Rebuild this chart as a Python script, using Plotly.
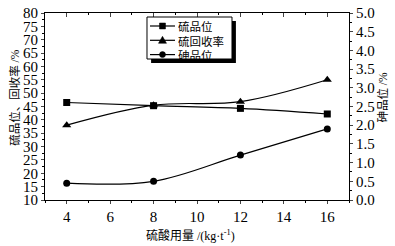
import plotly.graph_objects as go

dosage = [4, 8, 12, 16]
s_grade = [46.5, 45.3, 44.3, 42.2]
s_recovery = [38.0, 45.5, 46.8, 55.0]
as_grade = [0.45, 0.50, 1.20, 1.90]

names = ["硫品位", "硫回收率", "砷品位"]
x_ticks = [4, 6, 8, 10, 12, 14, 16]
y1_ticks = list(range(10, 81, 5))
y2_ticks = [0.0, 0.5, 1.0, 1.5, 2.0, 2.5, 3.0, 3.5, 4.0, 4.5, 5.0]

FONT = "Liberation Serif, Times New Roman, Noto Sans CJK SC, serif"

fig = go.Figure()
fig.add_trace(go.Scatter(x=dosage, y=s_grade, name=names[0], mode="lines+markers",
                         line=dict(color="black", width=1.2, shape="spline"),
                         marker=dict(symbol="square", size=7, color="black")))
fig.add_trace(go.Scatter(x=dosage, y=s_recovery, name=names[1], mode="lines+markers",
                         line=dict(color="black", width=1.2, shape="spline"),
                         marker=dict(symbol="triangle-up", size=8, color="black")))
fig.add_trace(go.Scatter(x=dosage, y=as_grade, name=names[2], mode="lines+markers", yaxis="y2",
                         line=dict(color="black", width=1.2, shape="spline"),
                         marker=dict(symbol="circle", size=7, color="black")))
# invisible trace for top mirror axis
fig.add_trace(go.Scatter(x=dosage, y=s_grade, xaxis="x2", mode="markers", showlegend=False,
                         marker=dict(opacity=0), hoverinfo="skip"))

axis_common = dict(showgrid=False, zeroline=False, linecolor="black", linewidth=1, automargin=False,
                   tickfont=dict(family=FONT, size=15, color="black"))

# ---- hand-drawn legend box (shadow + frame), symbols and labels ----
fig.add_shape(type="rect", xref="paper", yref="paper", x0=0.349, x1=0.628, y0=0.7326, y1=0.957,
              fillcolor="black", line=dict(width=0), layer="above")
fig.add_shape(type="rect", xref="paper", yref="paper", x0=0.3355, x1=0.6151, y0=0.754, y1=0.9786,
              fillcolor="white", line=dict(color="black", width=1), layer="above")
rows = [0.9305, 0.854, 0.7775]
lx0, lx1, lxc, tx = 0.3454, 0.4276, 0.3865, 0.4342
for i, (ry, nm) in enumerate(zip(rows, names)):
    fig.add_shape(type="line", xref="paper", yref="paper", x0=lx0, x1=lx1, y0=ry, y1=ry,
                  line=dict(color="black", width=1.2), layer="above")
    common = dict(xref="paper", yref="paper", xsizemode="pixel", ysizemode="pixel",
                  xanchor=lxc, yanchor=ry, fillcolor="black", line=dict(color="black", width=0.5),
                  layer="above")
    if i == 0:
        fig.add_shape(type="rect", x0=-3, x1=3, y0=-3, y1=3, **common)
    elif i == 1:
        fig.add_shape(type="path", path="M-4,-3 L4,-3 L0,4 Z", **common)
    else:
        fig.add_shape(type="circle", x0=-3, x1=3, y0=-3, y1=3, **common)
    fig.add_annotation(xref="paper", yref="paper", x=tx, y=ry, xanchor="left", yanchor="middle",
                       text=nm, showarrow=False, height=13, valign="middle", borderpad=0,
                       font=dict(family="Noto Sans CJK SC", size=11.5, color="black"))

# axis titles
fig.add_annotation(xref="paper", yref="paper", x=-0.1, y=0.55, xanchor="center", yanchor="middle",
                   text="硫品位、回收率 /%", textangle=-90, showarrow=False,
                   font=dict(family=FONT, size=11.5, color="black"))
fig.add_annotation(xref="paper", yref="paper", x=1.11, y=0.55, xanchor="center", yanchor="middle",
                   text="砷品位 /%", textangle=-90, showarrow=False,
                   font=dict(family=FONT, size=11.5, color="black"))
fig.add_annotation(xref="paper", yref="paper", x=0.48, y=-0.188, xanchor="center", yanchor="middle",
                   text="硫酸用量 /(kg·t<sup>-1</sup>)", showarrow=False,
                   font=dict(family=FONT, size=12, color="black"))

fig.update_layout(
    width=395, height=246,
    margin=dict(l=45, r=46, t=13, b=46, autoexpand=False),
    paper_bgcolor="white", plot_bgcolor="white",
    font=dict(family=FONT, color="black"),
    showlegend=False,
    xaxis=dict(range=[3, 17], tickvals=x_ticks, ticks="outside", ticklen=3, showline=True,
               minor=dict(dtick=1, ticks="outside", ticklen=2, tickcolor="black"),
               **axis_common),
    xaxis2=dict(range=[3, 17], overlaying="x", side="top", tickvals=x_ticks, ticks="inside", ticklen=4,
                showticklabels=False, showline=True, automargin=False,
                minor=dict(dtick=1, ticks="inside", ticklen=2, tickcolor="black"),
                showgrid=False, zeroline=False, linecolor="black", linewidth=1),
    yaxis=dict(range=[10, 80], tickvals=y1_ticks, ticks="outside", ticklen=3, showline=True,
               minor=dict(dtick=2.5, ticks="outside", ticklen=2, tickcolor="black"),
               **axis_common),
    yaxis2=dict(range=[0, 5], overlaying="y", side="right", tickvals=y2_ticks,
                ticktext=[f"{v:.1f}" for v in y2_ticks], ticks="outside", ticklen=3, showline=True,
                minor=dict(dtick=0.25, ticks="outside", ticklen=2, tickcolor="black"),
                **axis_common),
)

fig.write_html("out.html", config={"displayModeBar": False},
               post_script="document.body.style.margin='0px';document.body.style.overflow='hidden';")
